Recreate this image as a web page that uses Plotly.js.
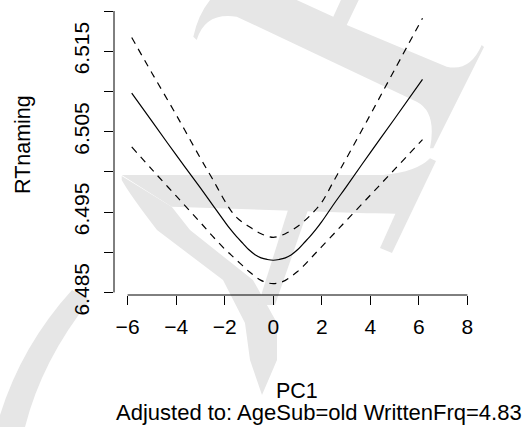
<!DOCTYPE html>
<html>
<head>
<meta charset="utf-8">
<script src="https://cdn.plot.ly/plotly-3.0.1.min.js"></script>
<style>html,body{margin:0;padding:0;background:#fff;}#chart{width:525px;height:427px;}</style>
</head>
<body>
<div id="chart"></div>
<script>
// ---- data ----
const pc1 = [-5.83, -5, -4, -3, -2.5, -2, -1.75, -1.5, -1.25, -1, -0.75, -0.5, -0.25, 0, 0.25, 0.5, 0.75, 1, 1.25, 1.5, 1.75, 2, 2.5, 3, 4, 5, 6.15];
const fit = [6.5098, 6.5063, 6.5021, 6.4980, 6.4959, 6.4938, 6.4928, 6.4919, 6.4911, 6.4903, 6.4897, 6.4893, 6.4891, 6.4890,
             6.4891, 6.4893, 6.4897, 6.4903, 6.4911, 6.4919, 6.4928, 6.4938, 6.4960, 6.4981, 6.5024, 6.5066, 6.5115];
const upper = [6.5167, 6.5123, 6.5071, 6.5017, 6.4991, 6.4964, 6.4952, 6.4943, 6.4937, 6.4932, 6.4927, 6.4923, 6.4920, 6.49185,
               6.4920, 6.4923, 6.4927, 6.4932, 6.4938, 6.4945, 6.4953, 6.4962, 6.4989, 6.5016, 6.5071, 6.5127, 6.5191];
const lower = [6.5031, 6.5003, 6.4970, 6.4937, 6.4920, 6.4904, 6.4897, 6.4890, 6.4883, 6.4876, 6.4870, 6.4865, 6.4862, 6.4861,
               6.4862, 6.4865, 6.4870, 6.4876, 6.4883, 6.4891, 6.4899, 6.4907, 6.4923, 6.4939, 6.4971, 6.5003, 6.5040];
const xTicks = [-6, -4, -2, 0, 2, 4, 6, 8];
const xTickText = ["\u22126", "\u22124", "\u22122", "0", "2", "4", "6", "8"];
const yTicks = [6.485, 6.490, 6.495, 6.500, 6.505, 6.510, 6.515, 6.520];
const yTickText = ["6.485", "", "6.495", "", "6.505", "", "6.515", ""];
const yTitle = "RTnaming";
const xTitle = "PC1";
const subTitle = "Adjusted to: AgeSub=old WrittenFrq=4.83";

// ---- layout geometry ----
const W = 525, H = 427;
const M = {l: 114, r: 44, t: 0, b: 132, pad: 0};
const PW = W - M.l - M.r, PH = H - M.t - M.b;
const FONT = "Liberation Sans, Arial, Helvetica, sans-serif";

function P(x, y) { return ((x - M.l) / PW).toFixed(4) + "," + ((H - M.b - y) / PH).toFixed(4); }
function path(cmds) {
  return cmds.map(c => {
    const op = c[0], pts = c.slice(1);
    let s = op;
    for (let i = 0; i < pts.length; i += 2) s += (i ? " " : "") + P(pts[i], pts[i + 1]);
    return s;
  }).join(" ") + " Z";
}
const wm = "#e6e6e6";
const wmPaths = [
  // top band with stem and right stroke
  [["M",193.3,36.7],["Q",198,15,210,0],["L",296.7,0],["L",333.3,16.7],["L",340.9,0],["L",358.7,0],["L",346.7,25],["L",446.7,66.7],["Q",470,72,481.7,45],["L",484,47],["L",433.3,148.3],["L",430,148.3],["Q",437,112,416.7,101.7],["L",236.7,16.7],["Q",205,12,196.7,40]],
  // crossbar
  [["M",121.7,175],["L",383.3,175],["Q",416.7,172,430,158.3],["L",400,214],["Q",385,213,366.7,213.3],["L",171.7,206.7]],
  // right stroke
  [["M",430,158.3],["L",436,161],["L",392,253],["L",380,248],["L",398,208]],
  // left leg
  [["M",121.7,176],["L",171.7,206.7],["L",190,230],["L",253,280],["L",277,323],["L",277,360],["L",262,395],["L",250,360],["L",245,323],["L",223,280],["L",157,230],["Q",130,195,121.7,180]],
  // inner stroke
  [["M",288,210],["L",308,210],["L",275,305],["L",258,305]],
  // bottom-left curve
  [["M",0,415],["Q",22,345,72,290],["L",90,300],["Q",42,360,25,427],["L",0,427]]
];
const shapes = wmPaths.map(p => ({type: "path", xref: "paper", yref: "paper", path: path(p), fillcolor: wm, line: {width: 0}, layer: "below"}));
shapes.push({type: "line", xref: "paper", yref: "y", x0: 0, x1: 0, y0: yTicks[0], y1: yTicks[yTicks.length - 1], line: {color: "#000", width: 1}});
shapes.push({type: "line", xref: "x", yref: "paper", y0: 0, y1: 0, x0: xTicks[0], x1: xTicks[xTicks.length - 1], line: {color: "#000", width: 1}});

const lineBase = {color: "#000", width: 1.2, shape: "spline", smoothing: 1};
const traces = [
  {x: pc1, y: fit, mode: "lines", line: Object.assign({}, lineBase), hoverinfo: "skip", showlegend: false},
  {x: pc1, y: upper, mode: "lines", line: Object.assign({}, lineBase, {dash: "7px,6px"}), hoverinfo: "skip", showlegend: false},
  {x: pc1, y: lower, mode: "lines", line: Object.assign({}, lineBase, {dash: "7px,6px"}), hoverinfo: "skip", showlegend: false}
];

function ann(text, x, y, angle, size) {
  return {text: text, xref: "paper", yref: "paper", x: (x - M.l) / PW, y: (H - M.b - y) / PH,
          xanchor: "center", yanchor: "middle", showarrow: false, textangle: angle || 0,
          font: {family: FONT, size: size, color: "#000"}};
}

const tickFont = {family: FONT, size: 21, color: "#000"};
const layout = {
  width: W, height: H, margin: M,
  paper_bgcolor: "#fff", plot_bgcolor: "rgba(0,0,0,0)",
  showlegend: false,
  font: {family: FONT, size: 21, color: "#000"},
  xaxis: {range: [-6.56, 8.56], tickvals: xTicks, ticktext: xTickText, ticks: "outside", ticklen: 9, tickwidth: 1, tickcolor: "#000",
          ticklabelstandoff: 4, showline: false, zeroline: false, showgrid: false, tickfont: tickFont},
  yaxis: {range: [6.48468, 6.52137], tickvals: yTicks, ticktext: yTickText, tickangle: -90, ticks: "outside", ticklen: 9, tickwidth: 1, tickcolor: "#000",
          ticklabelstandoff: 7, showline: false, zeroline: false, showgrid: false, tickfont: tickFont},
  shapes: shapes,
  annotations: [
    ann(yTitle, 23, 145, -90, 21.5),
    ann(xTitle, 297, 391, 0, 21.5),
    ann(subTitle, 318.5, 412, 0, 22)
  ]
};

Plotly.newPlot("chart", traces, layout, {staticPlot: true, displayModeBar: false});
</script>
</body>
</html>
